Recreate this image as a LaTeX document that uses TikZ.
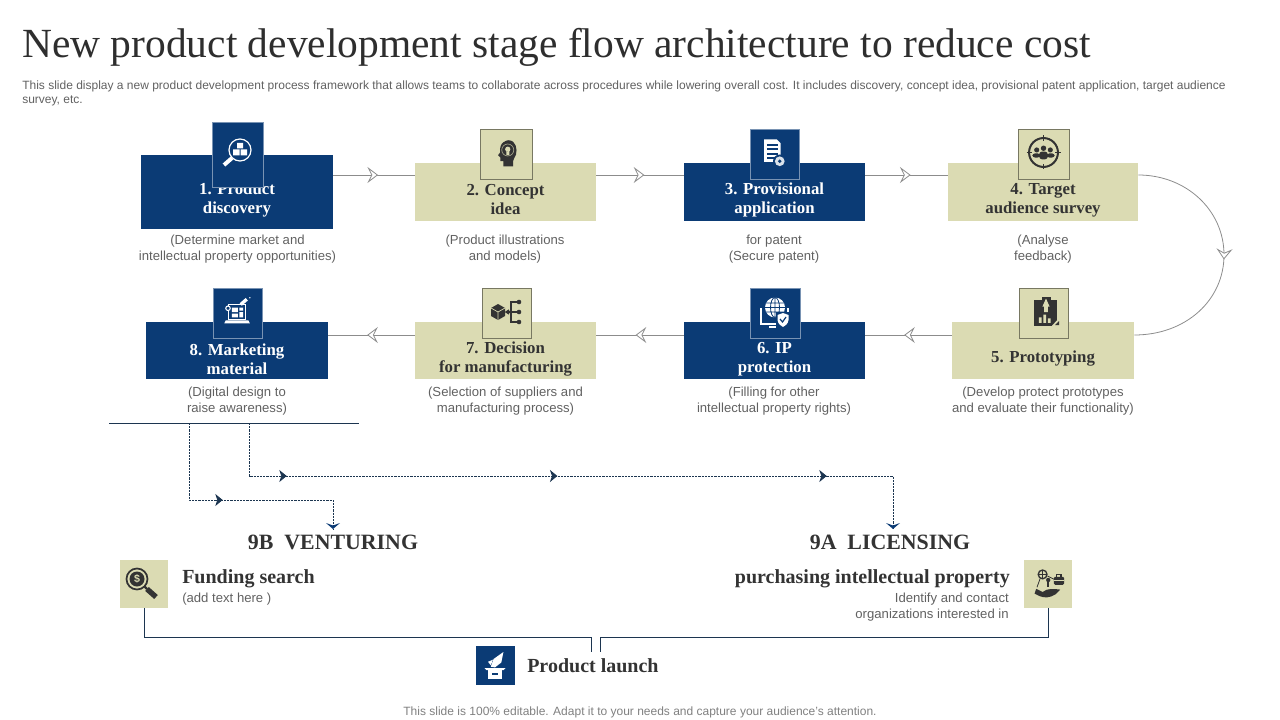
\documentclass[tikz,border=0pt]{standalone}
\usepackage{fontspec}
\usepackage{xcolor}
\usepackage{tikz}
\usetikzlibrary{positioning,calc,arrows.meta,decorations.markings}
\setmainfont{Liberation Serif}
\setsansfont{Liberation Sans}
\definecolor{navy}{HTML}{0B3B75}
\definecolor{khaki}{HTML}{DBDBB3}
\definecolor{ink}{HTML}{333333}
\definecolor{flowgray}{HTML}{8C8C8C}
\definecolor{busline}{HTML}{1C3550}
\tikzset{
  navybox/.style={fill=navy,text=white},
  khakibox/.style={fill=khaki,text=ink},
  stepbox/.style={inner sep=0pt,font=\rmfamily\bfseries\fontsize{12.6}{14.25}\selectfont,align=center},
  navytab/.style={fill=navy,draw=white!45!navy,line width=.6pt,inner sep=0pt},
  khakitab/.style={fill=khaki,draw=black!45!khaki,line width=.6pt,inner sep=0pt},
  note/.style={font=\sffamily\fontsize{9.85}{12}\selectfont,text=black!62,align=center,inner sep=0pt},
  smallnote/.style={note,font=\sffamily\fontsize{9}{10.5}\selectfont},
  heading/.style={font=\rmfamily\bfseries\fontsize{15}{16}\selectfont,text=ink,inner sep=0pt},
  bigheading/.style={font=\rmfamily\bfseries\fontsize{16.4}{20}\selectfont,text=ink,inner sep=0pt},
  flowline/.style={flowgray,line width=.65pt,postaction={decorate,flowgray,decoration={markings,
    mark=at position #1 with {\arrow{Stealth[length=8pt,width=12pt,inset=3pt,fill=white,line width=.6pt]}}}}},
  flowline/.default=.55,
  dashline/.style={busline,densely dashed,line width=.6pt,dash pattern=on 1.6pt off .8pt},
  navytip/.style={postaction={decorate,navy,decoration={markings,
    mark=at position #1 with {\arrow{Stealth[length=5.5pt,width=9pt,inset=1.5pt]}}}}},
}
\newcommand{\iconfind}{
  \draw[white,line width=.9pt] (2,-2) circle (11);
  \fill[white] (-1,-9) rectangle (5,-3.5) (-5,-2.5) rectangle (1.5,3.5) (2.5,-2.5) rectangle (9,3.5);
  \draw[white,line width=3pt] (-6,6) -- (-14,13);
}
\newcommand{\iconhead}{
  \fill[ink] (-5,18) -- (-5,11) -- (-9,11) -- (-9,6) -- (-12,3) -- (-9,-1) .. controls (-11,-15) and (0,-17) .. (2,-17)
    .. controls (12,-17) and (14,-5) .. (12,2) .. controls (11,6) and (8,8) .. (8,11) -- (8,18) -- cycle;
  \draw[khaki!70!ink,line width=.5pt] (1,-4) circle (8);
  \fill[khaki] (1,-5) circle (3.5) (-1,-2) rectangle (3,3);
}
\newcommand{\icondoc}{
  \fill[white] (-12,-18) -- (5,-18) -- (10,-13) -- (10,12) -- (-12,12) -- cycle;
  \foreach\y in {-11,-5,1,7}
    \draw[navy,line width=1.2pt] (-8,\y) -- (6,\y);
  \fill[navy] (9,11) circle (9);
  \fill[white!85!navy] (9,11) circle (6.5);
  \fill[navy] (9,11) circle (2.5);
}
\newcommand{\icontarget}{
  \draw[ink,line width=1.5pt] (0,0) circle (17);
  \foreach\a/\b in {-20/-14,14/20}{
    \draw[ink,line width=1pt] (\a,0) -- (\b,0);
    \draw[ink,line width=1pt] (0,\a) -- (0,\b);
  }
  \fill[ink] (-8,-3) circle (3) (0,-5) circle (3.2) (8,-3) circle (3);
  \fill[ink,rounded corners=2pt] (-13,6) rectangle (-4,1) (4,6) rectangle (13,1) (-5,8) rectangle (5,-1);
}
\newcommand{\iconclip}{
  \fill[ink] (-13,-13) rectangle (12,15);
  \fill[ink] (-5,-17) rectangle (6,-12);
  \fill[khaki] (0,-15) -- (4,-6) -- (2,-6) -- (2,0) -- (-2,0) -- (-2,-6) -- (-4,-6) -- cycle;
  \fill[khaki] (-8,12) rectangle (-5,6) (-3,12) rectangle (0,3) (2,12) rectangle (5,7);
  \fill[khaki] (6,16) -- (16,16) -- (16,5) -- cycle;
  \fill[ink] (10,14.5) -- (14.5,14.5) -- (14.5,10) -- cycle;
}
\newcommand{\icontree}{
  \fill[ink] (-9,-8) -- (-2,-4) -- (-2,4) -- (-9,8) -- (-16,4) -- (-16,-4) -- cycle;
  \draw[khaki,line width=.5pt] (-16,-4) -- (-9,0) -- (-2,-4) (-9,0) -- (-9,8);
  \draw[ink,line width=1pt] (10,-10) -- (4,-10) -- (4,10) -- (10,10) (10,0) -- (-1,0);
  \draw[ink,line width=1pt] (2,-2) -- (-1,0) -- (2,2);
  \fill[ink] (12,-10) circle (2.3) (12,0) circle (2.3) (12,10) circle (2.3);
}
\newcommand{\iconglobe}{
  \draw[white,line width=1pt] (-14,-2) -- (-14,14) -- (13,14) -- (13,-2);
  \fill[navy] (0,-2.5) circle (10.5);
  \fill[white] (0,-2.5) circle (10);
  \draw[navy,line width=.6pt] (0,-2.5) ellipse (4.5 and 10) (-10,-2.5) -- (10,-2.5) (-9,-7) -- (9,-7) (-9,2) -- (9,2) (0,-12.5) -- (0,7.5);
  \fill[white] (-6,16) rectangle (6,18);
  \fill[navy] (1,2) rectangle (15,18);
  \fill[white] (2.5,5) -- (8,3) -- (13.5,5) -- (13.5,10) .. controls (13,14) and (10,16) .. (8,17) .. controls (6,16) and (3,14) .. (2.5,10) -- cycle;
  \draw[navy,line width=.9pt] (5,9) -- (7.5,12) -- (11,7);
}
\newcommand{\iconlaptop}{
  \draw[white,line width=1pt] (-11,-10) rectangle (11,10);
  \fill[white] (-15,11) -- (15,11) -- (17,15) -- (-17,15) -- cycle;
  \fill[white] (-7,-6) rectangle (1,0) (3,-6) rectangle (8,-2) (-7,2) rectangle (1,7) (3,0) rectangle (8,7);
  \fill[navy] (-15,-8) rectangle (-9,-2);
  \draw[white,line width=.8pt] (-12,-5) circle (3);
  \draw[white,line width=2.5pt] (5,-10) -- (13,-17);
  \fill[white] (17,-19) circle (1);
}
\newcommand{\iconcoin}{
  \draw[ink,line width=1.3pt] (-5,-5) circle (10.5);
  \fill[ink] (-5,-5) circle (7.5);
  \draw[ink,line width=1.8pt] (2.5,2.5) -- (5,5);
  \draw[ink,line width=4pt] (5,5) -- (14,13);
  \node[text=khaki,inner sep=0pt,font=\sffamily\bfseries\fontsize{8}{8}\selectfont] (coinmark) at (-5,-5) {\$};
}
\newcommand{\iconhand}{
  \draw[ink,line width=1pt] (-8,-12) circle (5.5);
  \draw[ink,line width=.6pt] (-8,-17) -- (-8,-7) (-13,-12) -- (-3,-12);
  \fill[ink,rounded corners=1pt] (6,-9) rectangle (19,1);
  \draw[ink,line width=.8pt] (9,-9) -- (9,-12) -- (15,-12) -- (15,-9);
  \fill[khaki] (6,-5) rectangle (19,-4);
  \draw[ink,line width=.6pt] (-11,-7) -- (-15,4) (-2,-10) -- (6,-6);
  \fill[ink] (-1,-5) circle (2.7);
  \fill[ink] (-2,-5) rectangle (0,4);
  \fill[ink] (-16,6) -- (-8,10) .. controls (-2,5) and (6,6) .. (14,7) -- (8,13) .. controls (2,17) and (-6,18) .. (-12,15) -- (-18,12) -- cycle;
}
\newcommand{\iconrocket}{
  \fill[white] (-10,3) rectangle (10,19);
  \fill[white] (-15,3) -- (15,3) -- (12,6) -- (-12,6) -- cycle;
  \fill[navy] (-4,10) rectangle (4,12.5);
  \fill[white] (-6,1) -- (-2,-10) -- (12,-20) -- (9,-5) -- (0,2) -- cycle;
  \fill[white] (-10,-6) -- (-3,-9) -- (-6,-1) -- cycle;
}
\begin{document}
\begin{tikzpicture}[x=.75pt,y=-.75pt]
\useasboundingbox (0,0) rectangle (1280,720);

% title and intro
\node[anchor=west,inner sep=0pt,font=\rmfamily\fontsize{31.1}{36}\selectfont,text=ink!90!black] (title) at (22,47) {New product development stage flow architecture to reduce cost};
\node[anchor=north west,smallnote,align=left] (intro) at (22,81) {This slide display a new product development process framework that allows teams to collaborate across procedures while lowering overall cost. It includes discovery, concept idea, provisional patent application, target audience\\survey, etc.};

% step boxes
\foreach\n/\cx/\cy/\bw/\bh/\kind in {1/237/192/192/74/navybox,2/505.5/192/181/58/khakibox,3/774.5/192/181/58/navybox,4/1043/192/190/58/khakibox,
  5/1043/350.5/182/57/khakibox,6/774.5/350.5/181/57/navybox,7/505.5/350.5/181/57/khakibox,8/237/350.5/182/57/navybox}
  \node[\kind,minimum width=\bw*.75pt,minimum height=\bh*.75pt] (box\n) at (\cx,\cy) {};

% step titles
\foreach\n/\cx/\cy/\kind/\txt in {1/237/200/navybox/{1. Product\\discovery},2/505.5/200/khakibox/{2. Concept\\idea},
  3/774.5/200/navybox/{3. Provisional\\application},4/1043/200/khakibox/{4. Target\\audience survey},
  5/1043/359/khakibox/{5. Prototyping},6/774.5/359/navybox/{6. IP\\protection},
  7/505.5/359/khakibox/{7. Decision\\for manufacturing},8/237/359/navybox/{8. Marketing\\material}}
  \node[stepbox,\kind,fill=none] (txt\n) at (\cx,\cy) {\txt};

% icon tabs
\foreach\n/\cx/\cy/\bw/\bh/\kind in {1/237.5/154.5/51/65/navytab,2/506/154/52/50/khakitab,3/774.5/154/49/50/navytab,4/1043.5/154/51/50/khakitab,
  5/1043.5/313/49/50/khakitab,6/775/313/50/50/navytab,7/506.5/313/49/50/khakitab,8/237.5/313/49/50/navytab}
  \node[\kind,minimum width=\bw*.75pt,minimum height=\bh*.75pt] (tab\n) at (\cx,\cy) {};

% notes under the boxes
\foreach\n/\cx/\cy/\txt in {1/237.5/249.5/{(Determine market and\\intellectual property opportunities)},2/505/249.5/{(Product illustrations\\and models)},
  3/774/249.5/{for patent\\(Secure patent)},4/1043/249.5/{(Analyse\\feedback)},5/1043/401.5/{(Develop protect prototypes\\and evaluate their functionality)},
  6/774/401.5/{(Filling for other\\intellectual property rights)},7/505.5/401.5/{(Selection of suppliers and\\manufacturing process)},8/237/401.5/{(Digital design to\\raise awareness)}}
  \node[note] (note\n) at (\cx,\cy) {\txt};

% grey flow
\coordinate (row1) at (0,175);
\coordinate (row2) at (0,335);
\foreach\a/\b/\r in {1/2/row1,2/3/row1,3/4/row1,5/6/row2,6/7/row2,7/8/row2}
  \draw[flowline] (box\a.\ifnum\a<5 east\else west\fi |- \r) -- (box\b.\ifnum\a<5 west\else east\fi |- \r);
\draw[flowline=.51,line width=.6pt] (box4.east |- row1) .. controls (1186,175) and (1224,210) .. (1224,255) .. controls (1224,300) and (1186,335) .. (box5.east |- row2);

% the split under step 8
\coordinate (ruleL) at (109,423);
\coordinate (ruleR) at (359,423);
\coordinate (dropB) at (189,423);
\coordinate (dropA) at (249,423);
\coordinate (tipB) at (333,529);
\coordinate (tipA) at (893,529);
\coordinate (runB) at (333,500);
\coordinate (runA) at (893,476);
\draw[busline,line width=.75pt] (ruleL) -- (ruleR);
\draw[dashline,navytip=83pt] (dropB) |- (runB) -- (tipB);
\draw[dashline,navytip=68pt,navytip=271pt,navytip=473pt] (dropA) |- (runA) -- (tipA);
\fill[navy] (tipB) -- ++(-7,-6) -- ++(7,2.5) -- ++(7,-2.5) -- cycle;
\fill[navy] (tipA) -- ++(-7,-6) -- ++(7,2.5) -- ++(7,-2.5) -- cycle;

% 9A and 9B
\node[bigheading] (venture) at (333,542) {9B\ \ VENTURING};
\node[bigheading] (license) at (890,542) {9A\ \ LICENSING};
\node[khakibox,minimum width=36pt,minimum height=36pt,inner sep=0pt] (fund) at (144,584) {};
\node[khakibox,minimum width=36pt,minimum height=36pt,inner sep=0pt] (ip) at (1048,584) {};
\node[heading,anchor=west] (fundtxt) at (182,578.5) {Funding search};
\node[note,anchor=west] (fundnote) at (182,599) {(add text here )};
\node[heading,anchor=east] (iptxt) at (1010,578.5) {purchasing intellectual property};
\node[note,anchor=north east,align=right] (ipnote) at (1009,593) {Identify and contact\\organizations interested in};

% product launch
\node[navybox,minimum width=29.25pt,minimum height=29.25pt,inner sep=0pt] (launch) at (495.5,665.5) {};
\node[heading,anchor=west] (launchtxt) at (527,666) {Product launch};
\coordinate (busL) at (591,637);
\coordinate (busR) at (600,637);
\coordinate (inL) at (591,652);
\coordinate (inR) at (600,652);
\draw[busline,line width=.75pt] (fund.south) |- (busL) -- (inL);
\draw[busline,line width=.75pt] (ip.south) |- (busR) -- (inR);

% icons
\begin{scope}[shift={(238,152)}]\iconfind\end{scope}
\begin{scope}[shift={(507,153)},scale=.75]\iconhead\end{scope}
\begin{scope}[shift={(773,153)},scale=.75]\icondoc\end{scope}
\begin{scope}[shift={(1043.5,152.5)},scale=.85]\icontarget\end{scope}
\begin{scope}[shift={(1046,312)},scale=.9]\iconclip\end{scope}
\begin{scope}[shift={(775,310)}]\iconglobe\end{scope}
\begin{scope}[shift={(507,312)}]\icontree\end{scope}
\begin{scope}[shift={(237,312)},scale=.75]\iconlaptop\end{scope}
\begin{scope}[shift={(142,584)}]\iconcoin\end{scope}
\begin{scope}[shift={(1049,584)},scale=.8]\iconhand\end{scope}
\begin{scope}[shift={(495,666)},scale=.7]\iconrocket\end{scope}

% footer
\node[smallnote,text=black!50] (footer) at (640,712) {This slide is 100\% editable. Adapt it to your needs and capture your audience's attention.};
\end{tikzpicture}
\end{document}
